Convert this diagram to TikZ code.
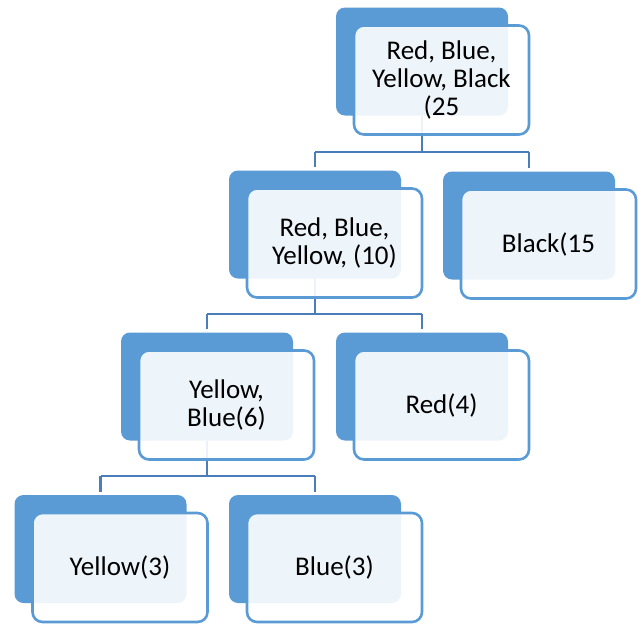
\documentclass[tikz,border=0pt]{standalone}
\usepackage{fontspec}
\setmainfont{Carlito}
\definecolor{backblue}{HTML}{5B9BD5}
\definecolor{edgeblue}{HTML}{5B9BD5}
\definecolor{linkblue}{HTML}{4A7EBB}
\begin{document}
\begin{tikzpicture}[x=1pt,y=-1pt,
  backbox/.style={fill=backblue, draw=none, rounded corners=9pt,
    minimum width=172pt, minimum height=108pt, inner sep=0pt},
  frontbox/.style={fill=white, fill opacity=0.9, text opacity=1,
    draw=edgeblue, line width=2.6pt, rounded corners=10pt,
    minimum width=175pt, minimum height=109pt, inner sep=0pt,
    align=center, font=\fontsize{27}{28}\selectfont},
  link/.style={draw=linkblue, line width=2.4pt}]
\useasboundingbox (0,0) rectangle (638,625);

% back panels
\node[backbox] (bA) at (422,61.5) {};
\node[backbox] (bB) at (315,224.5) {};
\node[backbox] (bC) at (529,225.5) {};
\node[backbox] (bD) at (207,386.5) {};
\node[backbox] (bE) at (422,386.5) {};
\node[backbox] (bF) at (100.5,549) {};
\node[backbox] (bG) at (315,549) {};

% connectors: parent panel down to a bar, bar across, down to each child
\coordinate (barA) at (0,152);
\coordinate (barB) at (0,314);
\coordinate (barD) at (0,476);
\draw[link] (bA.south) -- (bA.south |- barA);
\draw[link] (bB.north |- barA) -- (bC.north |- barA);
\draw[link,shorten >=3pt] (bB.north |- barA) -- (bB.north);
\draw[link,shorten >=3pt] (bC.north |- barA) -- (bC.north);

\draw[link] (bB.south) -- (bB.south |- barB);
\draw[link] (bD.north |- barB) -- (bE.north |- barB);
\draw[link,shorten >=3pt] (bD.north |- barB) -- (bD.north);
\draw[link,shorten >=3pt] (bE.north |- barB) -- (bE.north);

\draw[link] (bD.south) -- (bD.south |- barD);
\draw[link] (bF.north |- barD) -- (bG.north |- barD);
\draw[link,shorten >=3pt] (bF.north |- barD) -- (bF.north);
\draw[link,shorten >=3pt] (bG.north |- barD) -- (bG.north);

% front cards with the labels
\node[frontbox] (fA) at ([shift={(19.5,18.5)}]bA.center) {Red, Blue,\\Yellow, Black\\(25};
\node[frontbox] (fB) at ([shift={(19.5,18.5)}]bB.center) {Red, Blue,\\Yellow, (10)};
\node[frontbox] (fC) at ([shift={(19.5,18.5)}]bC.center) {Black(15};
\node[frontbox] (fD) at ([shift={(19.5,18.5)}]bD.center) {Yellow,\\Blue(6)};
\node[frontbox] (fE) at ([shift={(19.5,18.5)}]bE.center) {Red(4)};
\node[frontbox] (fF) at ([shift={(19.5,18.5)}]bF.center) {Yellow(3)};
\node[frontbox] (fG) at ([shift={(19.5,18.5)}]bG.center) {Blue(3)};
\end{tikzpicture}
\end{document}
